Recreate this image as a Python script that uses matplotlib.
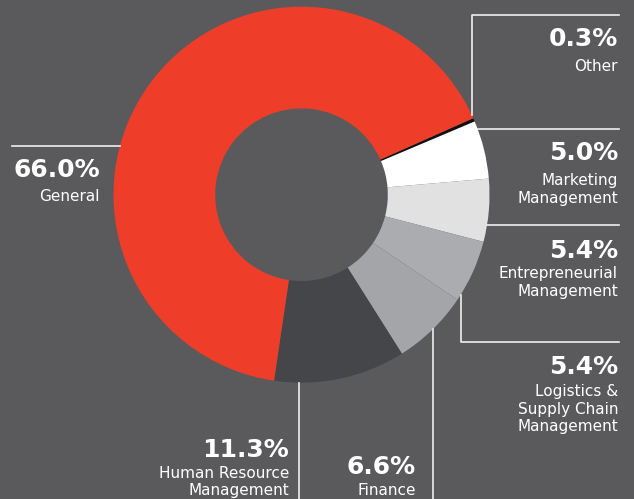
import numpy as np
import matplotlib.pyplot as plt

# ==== Data ====
labels = ["Other", "Marketing\nManagement", "Entrepreneurial\nManagement",
          "Logistics &\nSupply Chain\nManagement", "Finance",
          "Human Resource\nManagement", "General"]
shares = [0.3, 5.0, 5.4, 5.4, 6.6, 11.3, 66.0]
colors = ['#111111', '#ffffff', '#e2e1e2', '#abacaf', '#a4a5a8', '#45464a', '#ee3e2a']

BG = '#5a5a5c'
LINE = '#eeeeee'
W, H = 634, 499

fig = plt.figure(figsize=(W / 100, H / 100), dpi=100, facecolor=BG)
ax = fig.add_axes([0, 0, 1, 1])
ax.set_facecolor(BG)

# donut, pixel coordinates with y measured upward
cx, cy, R = 301.5, H - 194.7, 188
ax.pie(shares, colors=colors, startangle=24, counterclock=False,
       center=(cx, cy), radius=R, wedgeprops=dict(width=R - 86.3, linewidth=0),
       frame=True)
ax.set_xlim(0, W)
ax.set_ylim(0, H)
ax.axis('off')


def on_circle_x(y, side=1):
    return cx + side * np.sqrt(R ** 2 - (y - cy) ** 2)


def on_circle_y(x, side=1):
    return cy + side * np.sqrt(R ** 2 - (x - cx) ** 2)


RIGHT = 619
lw = 1.2

# leader lines (top-down pixel rows converted to y-up)
y_other = H - 15
x_other = 471.7
ax.plot([x_other, x_other, RIGHT], [on_circle_y(x_other), y_other, y_other], color=LINE, lw=lw)

y_mkt = H - 129.3
ax.plot([on_circle_x(y_mkt), RIGHT], [y_mkt, y_mkt], color=LINE, lw=lw)

y_ent = H - 224.5
ax.plot([on_circle_x(y_ent), RIGHT], [y_ent, y_ent], color=LINE, lw=lw)

x_log, y_log = 460.7, H - 341.7
ax.plot([x_log, x_log, RIGHT], [on_circle_y(x_log, -1), y_log, y_log], color=LINE, lw=lw)

x_fin = 432.7
ax.plot([x_fin, x_fin], [on_circle_y(x_fin, -1), 0], color=LINE, lw=lw)

x_hr = 299.3
ax.plot([x_hr, x_hr], [on_circle_y(x_hr, -1), 0], color=LINE, lw=lw)

y_gen = H - 145.7
ax.plot([11.7, on_circle_x(y_gen, -1)], [y_gen, y_gen], color=LINE, lw=lw)

# text blocks: (right edge x, baseline of the percentage, gap to first label line, label index)
pct_font = dict(family='DejaVu Sans', weight='bold', size=18, color='white')
lab_font = dict(family='DejaVu Sans', size=11, color='white')
STEP = 17.6

blocks = [
    (618, 46, 24.7, 0),
    (618, 160, 25, 1),
    (618, 257.5, 20.5, 2),
    (618, 374, 22, 3),
    (416, 474, 21, 4),
    (289, 456.7, 21, 5),
    (100, 176.7, 24, 6),
]
for xr, base, gap, i in blocks:
    ax.text(xr, H - base, f"{shares[i]:.1f}%", ha='right', va='baseline', **pct_font)
    for k, line in enumerate(labels[i].split('\n')):
        ax.text(xr, H - (base + gap + STEP * k), line, ha='right', va='baseline', **lab_font)

fig.savefig('out.png', dpi=100, facecolor=BG)
